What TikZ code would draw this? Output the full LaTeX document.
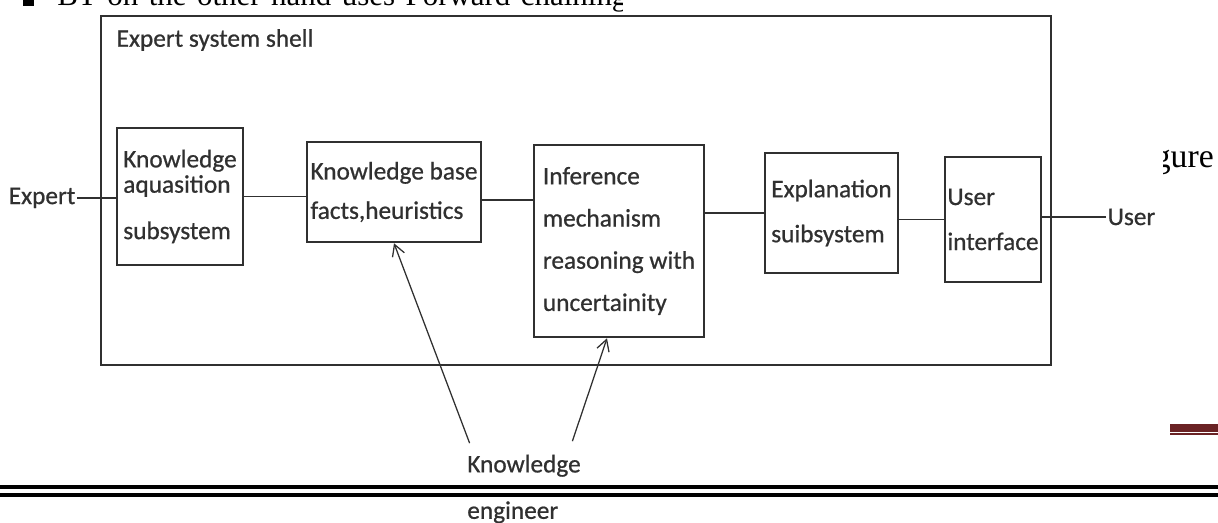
\documentclass[tikz,border=0pt]{standalone}
\usepackage{fontspec}
\setmainfont{Liberation Serif}
\newfontfamily\diagfont[FakeBold=0.7]{Carlito}
\usepackage{tikz}
\usetikzlibrary{arrows.meta}
\definecolor{ink}{HTML}{303030}
\definecolor{rulered}{HTML}{6A2224}
\newcommand\diagtext[1]{\diagfont\fontsize{18}{#1}\selectfont}
\tikzset{
	word/.style={text=ink,font=\diagtext{#1},align=left,inner sep=1pt},
	word/.default=24,
	box/.style={word=#1,draw=ink,line width=1.8pt,inner sep=0pt},
	box/.default=24,
	link/.style={draw=ink,line width=1.4pt},
	feed/.style={draw=ink,line width=0.9pt,-{Straight Barb[length=8pt,width=9pt]}}
}

\begin{document}
\begin{tikzpicture}[x=0.025cm,y=-0.025cm]
	\useasboundingbox (0,0) rectangle (1218,523);
	% page text round the figure
	\begin{scope}
		\clip (0,0) rectangle (622,40);
		\fill (23,-6) rectangle (34,6);
		\node[anchor=base west,inner sep=0pt,font=\fontsize{22}{26}\selectfont] (bt) at (57,6) {\makebox[14.25cm][s]{BT on the other hand uses Forward chaining}};
	\end{scope}
	\begin{scope}
		\clip (1163,120) rectangle (1218,200);
		\node[anchor=base east,inner sep=0pt,font=\fontsize{24}{28}\selectfont] (gure) at (1214,168) {gure};
	\end{scope}
	\fill[rulered] (1170,424) rectangle (1218,432);
	\fill[rulered] (1170,433) rectangle (1218,434.7);
	\fill (0,485) rectangle (1218,489.5);
	\fill (0,493) rectangle (1218,497);
	
	% the shell and its parts
	\node[draw=ink,line width=1.5pt,minimum width=23.75cm,minimum height=8.725cm,inner sep=0pt] (shell) at (576,190.5) {};
	\node[word,anchor=west] (title) at (115,40) {Expert system shell};
	\node[box,minimum width=3.15cm,minimum height=3.425cm] (acq) at (180,196.5) {Knowledge\\[-6pt]aquasition\\[9pt]subsystem};
	\node[box=28,minimum width=4.35cm,minimum height=2.5cm] (kb) at (394,192) {Knowledge base\\facts,heuristics};
	\node[box=30,minimum width=4.25cm,minimum height=4.8cm] (inf) at (619,241) {Inference\\mechanism\\reasoning with\\uncertainity};
	\node[box=32,minimum width=3.325cm,minimum height=3cm] (expl) at (831.5,213) {Explanation\\suibsystem};
	\node[box=32,minimum width=2.4cm,minimum height=3.125cm] (ui) at (993,219.5) {User\\interface};
	
	\node[word,anchor=east] (expert) at (77,198) {Expert};
	\node[word,anchor=west] (user) at (1106,217) {User};
	\node[word=33] (eng) at (524,489) {Knowledge\\engineer};
	
	\path[link]
	(expert) edge (expert -| acq.west)
	(acq) edge (acq -| kb.west)
	([yshift=-0.2cm]kb.east) edge ([yshift=-0.2cm]kb.east -| inf.west)
	(expl) edge (expl -| inf.east)
	(ui) edge (ui -| expl.east)
	(user) edge (user -| ui.east);
	\path
	([xshift=0.1cm,yshift=0.25cm]eng.north west) edge[feed] (kb.south)
	([xshift=-0.25cm,yshift=0.3cm]eng.north east) edge[feed] ([xshift=-0.3cm]inf.south);
\end{tikzpicture}
\end{document}
